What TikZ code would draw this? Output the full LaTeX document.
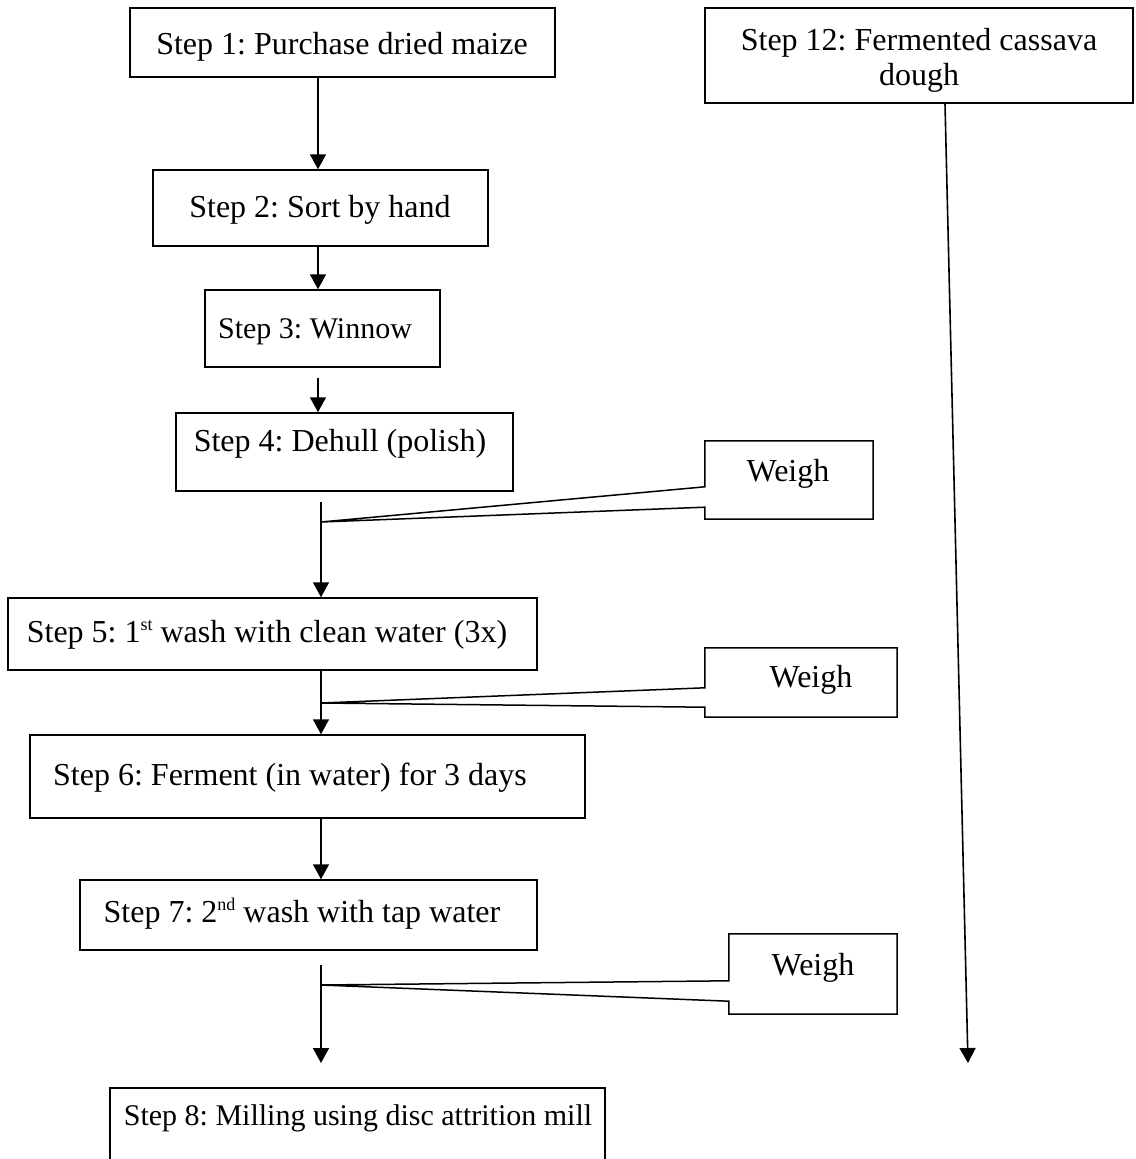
\documentclass[tikz,border=0pt]{standalone}
\usepackage{fontspec}
\setmainfont{Liberation Serif}
\usetikzlibrary{arrows.meta,calc}
\frenchspacing
\newcommand{\supr}[1]{\raisebox{0.36em}{\fontsize{18}{18}\selectfont #1}}
\begin{document}
\begin{tikzpicture}[x=1pt,y=-1pt,
  box/.style={draw, line width=1.5pt, inner sep=0pt},
  wbox/.style={inner sep=0pt},
  txt/.style={font=\fontsize{32}{36}\selectfont, anchor=base, inner sep=0pt},
  stxt/.style={txt, font=\fontsize{30}{34}\selectfont},
  conn/.style={line width=1.6pt, -{Triangle[width=16pt,length=15pt]}},
  callout/.style={line width=1.5pt, line join=miter}]
\useasboundingbox (0,0) rectangle (1135,1159);
% boxes
\node[box, minimum width=425pt, minimum height=69pt] (b1) at (342.5,42.5) {};
\node[box, minimum width=335pt, minimum height=76pt] (b2) at (320.5,208) {};
\node[box, minimum width=235pt, minimum height=77pt] (b3) at (322.5,328.5) {};
\node[box, minimum width=337pt, minimum height=78pt] (b4) at (344.5,452) {};
\node[box, minimum width=529pt, minimum height=72pt] (b5) at (272.5,634) {};
\node[box, minimum width=555pt, minimum height=83pt] (b6) at (307.5,776.5) {};
\node[box, minimum width=457pt, minimum height=70pt] (b7) at (308.5,915) {};
\node[box, minimum width=495pt, minimum height=102pt] (b8) at (357.5,1139) {};
\node[box, minimum width=428pt, minimum height=95pt] (b12) at (919,55.5) {};
\node[wbox, minimum width=168pt, minimum height=78pt] (w1) at (789,480) {};
\node[wbox, minimum width=192pt, minimum height=69pt] (w2) at (801,682.5) {};
\node[wbox, minimum width=168pt, minimum height=80pt] (w3) at (813,974) {};
% texts
\node[txt] (t1) at (342,54) {Step 1: Purchase dried maize};
\node[txt] (t2) at (320,217) {Step 2: Sort by hand};
\node[stxt] (t3) at (315,338) {Step 3: Winnow};
\node[txt] (t4) at (340,451) {Step 4: Dehull (polish)};
\node[txt] (t5) at (267,642) {Step 5: 1\supr{st} wash with clean water (3x)};
\node[txt] (t6) at (290,785) {Step 6: Ferment (in water) for 3 days};
\node[txt] (t7) at (302,922) {Step 7: 2\supr{nd} wash with tap water};
\node[stxt] (t8) at (358,1125) {Step 8: Milling using disc attrition mill};
\node[txt] (t12a) at (919,50) {Step 12: Fermented cassava};
\node[txt] (t12b) at (919,85) {dough};
\node[txt] (tw1) at (788,481) {Weigh};
\node[txt] (tw2) at (811,687) {Weigh};
\node[txt] (tw3) at (813,975) {Weigh};
% reference coordinates
\coordinate (ax) at (318,0);
\coordinate (bx) at (321,0);
\coordinate (s3) at (318,378);
\coordinate (s4) at (321,502);
\coordinate (j1) at (321,522);
\coordinate (j2) at (321,703);
\coordinate (s7) at (321,965);
\coordinate (j3) at (321,985);
\coordinate (e7) at (321,1063);
\coordinate (e12) at (968,1063);
% connectors
\draw[conn] (b1.south -| ax) -- (b2.north -| ax);
\draw[conn] (b2.south -| ax) -- (b3.north -| ax);
\draw[conn] (s3) -- (b4.north -| ax);
\draw[conn] (s4) -- (b5.north -| bx);
\draw[conn] (b5.south -| bx) -- (b6.north -| bx);
\draw[conn] (b6.south -| bx) -- (b7.north -| bx);
\draw[conn] (s7) -- (e7);
\draw[conn] ([xshift=26pt]b12.south) -- (e12);
% callouts
\draw[callout] (w1.north west) -- (w1.north east) -- (w1.south east) -- (w1.south west)
  -- ([yshift=12pt]w1.south west) -- (j1) -- ([yshift=-46pt]w1.north west) -- cycle;
\draw[callout] (w2.north west) -- (w2.north east) -- (w2.south east) -- (w2.south west)
  -- ([yshift=10pt]w2.south west) -- (j2) -- ([yshift=-40pt]w2.north west) -- cycle;
\draw[callout] (w3.north west) -- (w3.north east) -- (w3.south east) -- (w3.south west)
  -- ([yshift=13pt]w3.south west) -- (j3) -- ([yshift=-47pt]w3.north west) -- cycle;
\end{tikzpicture}
\end{document}
